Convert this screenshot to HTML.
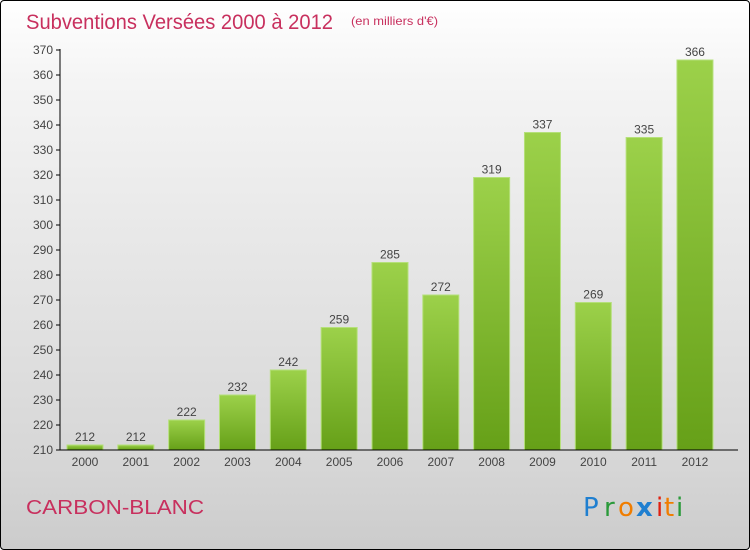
<!DOCTYPE html>
<html><head><meta charset="utf-8"><style>
html,body{margin:0;padding:0}
body{width:750px;height:550px;overflow:hidden;font-family:"Liberation Sans",sans-serif}
#frame{position:absolute;left:0;top:0;width:748px;height:548px;border:1px solid #000;border-radius:4px;background:linear-gradient(#ffffff,#f4f4f4 15%,#d6d6d6 85%,#cccccc)}
</style></head><body>
<div id="frame"></div>
<svg id="c" width="750" height="550" style="position:absolute;left:0;top:0">
<defs><linearGradient id="g" x1="0" y1="0" x2="0" y2="1"><stop offset="0" stop-color="#9cd14a"/><stop offset="1" stop-color="#66a018"/></linearGradient></defs>
<text x="26" y="29" font-size="21" fill="#c8305e" textLength="307" lengthAdjust="spacingAndGlyphs">Subventions Versées 2000 à 2012</text>
<text x="351" y="25" font-size="12" fill="#c8305e" textLength="87" lengthAdjust="spacingAndGlyphs">(en milliers d'€)</text>
<text x="26" y="514" font-size="20" fill="#c8305e" textLength="178" lengthAdjust="spacingAndGlyphs">CARBON-BLANC</text>
<g font-size="26" font-family="'DejaVu Sans',sans-serif">
<text x="583" y="516" fill="#1f7fd0">P</text><text x="604" y="516" fill="#2a9a3a">r</text><text x="618" y="516" fill="#f07d00">o</text><text x="636" y="516" fill="#1f7fd0" font-weight="bold">x</text><text x="656" y="516" fill="#e02010">i</text><text x="664" y="516" fill="#f07d00">t</text><text x="676" y="516" fill="#2a9a3a">i</text>
</g>
<g id="plot"></g>
</svg>
<script>
const years=["2000","2001","2002","2003","2004","2005","2006","2007","2008","2009","2010","2011","2012"];
const values=[212,212,222,232,242,259,285,272,319,337,269,335,366];
const yTicks=[210,220,230,240,250,260,270,280,290,300,310,320,330,340,350,360,370];
const NS="http://www.w3.org/2000/svg";
const g=document.getElementById('plot');
const y=v=>450-(v-210)*2.5;
const x=i=>85+i*50.83;
function mk(t,a,txt){const e=document.createElementNS(NS,t);for(const k in a)e.setAttribute(k,a[k]);if(txt!==undefined)e.textContent=txt;g.appendChild(e);return e;}
yTicks.forEach(v=>{
 const l=mk('line',{x1:56,x2:60,y1:y(v),y2:y(v),stroke:'#000'});
 
 
 const t=mk('text',{x:53,y:y(v)+4,'font-size':12,'text-anchor':'end',fill:'#444'},v);
 
 
});
values.forEach((v,i)=>{
 const r=mk('rect',{x:x(i)-18,y:y(v),width:36,height:450-y(v),fill:'url(#g)',stroke:'#b5e07a','stroke-width':1});
 
 
 const t=mk('text',{x:x(i),y:y(v)-4,'font-size':12,'text-anchor':'middle',fill:'#444'},v);
 
 
 const xl=mk('text',{x:x(i),y:466,'font-size':12,'text-anchor':'middle',fill:'#444'},years[i]);
 
 
});
const ya=mk('line',{x1:60,x2:60,y1:49,y2:450,stroke:'#000'});


const xa=mk('line',{x1:60,x2:738,y1:450,y2:450,stroke:'#000'});


</script>
</body></html>
